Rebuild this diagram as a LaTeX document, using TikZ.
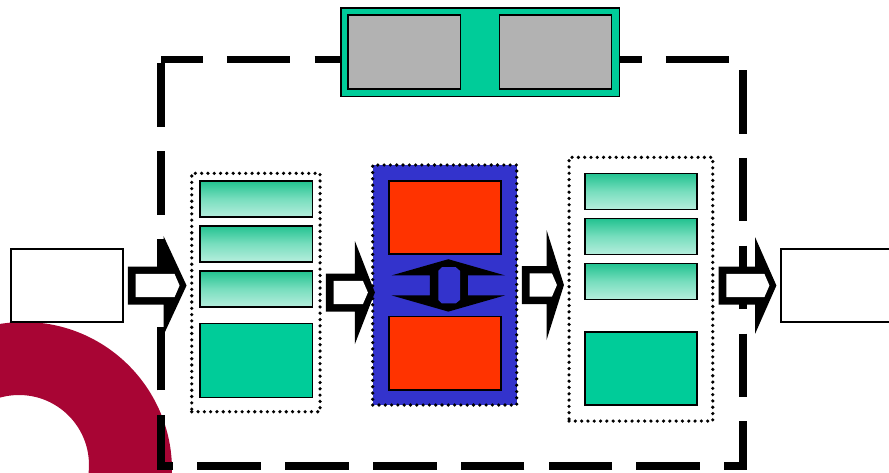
\documentclass[tikz,border=0pt]{standalone}
\usetikzlibrary{calc}
\definecolor{panelgreen}{RGB}{0,204,153}
\definecolor{boxgray}{RGB}{178,178,178}
\definecolor{fadetop}{RGB}{34,194,144}
\definecolor{fademid}{RGB}{120,222,190}
\definecolor{fadelow}{RGB}{182,238,221}
\definecolor{coreblue}{RGB}{51,51,204}
\definecolor{corered}{RGB}{255,51,0}
\definecolor{ringred}{RGB}{168,5,52}
\tikzset{
	iobox/.style={draw=black, fill=white, line width=1.8pt, inner sep=0pt, minimum width=112pt, minimum height=73pt},
	unitbox/.style={draw=black, line width=1.6pt, inner sep=0pt, minimum width=112.5pt},
	fadebox/.style={unitbox, top color=fadetop, bottom color=fadelow, middle color=fademid, minimum height=36pt},
	solidbox/.style={unitbox, fill=panelgreen, minimum height=74pt},
	graybox/.style={unitbox, fill=boxgray, minimum height=74.5pt},
	redbox/.style={unitbox, fill=corered, minimum height=73.5pt},
	panel/.style={draw=black, fill=panelgreen, line width=1.5pt, inner sep=0pt, minimum width=278.5pt, minimum height=88.5pt},
	dotgroup/.style={draw=black, line width=3.6pt, dash pattern=on 0pt off 6.3pt, line cap=round, inner sep=0pt},
	frame/.style={line width=7.5pt, dash pattern=on 63.5pt off 24.3pt, dash phase=22pt}
}
% thick hollow arrow: tail, tip, half height of head, length of head
\newcommand{\blockarrow}[4]{%
	\fill[black] let \p1=(#1), \p2=(#2) in
		(\x1,\y1-19pt) -- (\x2-#4pt,\y1-19pt) -- (\x2-#4pt,\y1-#3pt) -- (\x2,\y1)
		-- (\x2-#4pt,\y1+#3pt) -- (\x2-#4pt,\y1+19pt) -- (\x1,\y1+19pt) -- cycle;
	\fill[white] let \p1=(#1), \p2=(#2) in
		(\x1+7.7pt,\y1-11.6pt) -- (\x2-12pt,\y1-11.6pt) -- (\x2-7pt,\y1)
		-- (\x2-12pt,\y1+11.6pt) -- (\x1+7.7pt,\y1+11.6pt) -- cycle;
}
\begin{document}
\begin{tikzpicture}[x=1pt,y=-1pt]
	\useasboundingbox (0,0) rectangle (889,472);
	\clip (0,0) rectangle (889,472);
	\fill[ringred, even odd rule] (24,470) circle (148pt) (19,465) circle (70pt);
	\draw[frame] (161,59.5) -- (743,59.5) -- (743,466) -- (161,466) -- cycle;
	% control panel on top
	\node[panel] (ctrl) at (480,52) {};
	\node[graybox, minimum width=112.2pt] (ctrlL) at (404.2,52) {};
	\node[graybox, minimum width=112.2pt] (ctrlR) at (555.5,52) {};
	% in and out
	\node[iobox] (inbox) at (67,285.5) {};
	\node[iobox] (outbox) at (836.9,285.5) {};
	% first group
	\node[dotgroup, minimum width=128.3pt, minimum height=238.4pt] (grpA) at (255.9,292.5) {};
	\node[fadebox] (a1) at (256.2,198.9) {};
	\node[fadebox] (a2) at (256.2,243.7) {};
	\node[fadebox] (a3) at (256.2,288.9) {};
	\node[solidbox] (a4) at (256.2,360.5) {};
	% core
	\node[dotgroup, fill=coreblue, minimum width=144pt, minimum height=240pt] (core) at (444.7,285) {};
	\node[redbox, minimum width=111.9pt] (redtop) at (445,217.5) {};
	\node[redbox, minimum width=111.9pt] (redlow) at (445,353.3) {};
	\coordinate (swap) at ($(redtop.south)!0.5!(redlow.north)+(3.3,0)$);
	\begin{scope}[shift={(swap)}]
		\fill[black] (0,-26.2) -- (56.7,-10) -- (19.5,-10) -- (19.5,10) -- (56.7,10) -- (0,26.2)
			-- (-56.7,10) -- (-18.5,10) -- (-18.5,-10) -- (-56.7,-10) -- cycle;
		\fill[coreblue] (-10,-14.5) -- (-6.5,-18.2) -- (7.5,-18.2) -- (11.7,-14.5)
			-- (11.7,14.5) -- (7.5,18) -- (-6.5,18) -- (-10,14.5) -- cycle;
	\end{scope}
	% second group
	\node[dotgroup, minimum width=143.7pt, minimum height=263.7pt] (grpB) at (640.9,289.2) {};
	\node[fadebox, minimum width=112.2pt] (b1) at (640.9,191.4) {};
	\node[fadebox, minimum width=112.2pt] (b2) at (640.9,236.5) {};
	\node[fadebox, minimum width=112.2pt] (b3) at (640.9,281.5) {};
	\node[solidbox, minimum width=112.2pt, minimum height=73.5pt] (b4) at (640.9,368.5) {};
	% arrows between the stages
	\coordinate (s1) at ($(inbox.east)+(4,0)$);
	\coordinate (e1) at ($(grpA.west |- s1)+(-3.4,0)$);
	\coordinate (s2) at ($(grpA.east)+(4,0)$);
	\coordinate (e2) at ($(core.west |- s2)+(4,0)$);
	\coordinate (s3) at ($(core.east)+(3.3,0)$);
	\coordinate (e3) at ($(grpB.west |- s3)+(-3.3,0)$);
	\coordinate (s4) at ($(grpB.east |- outbox.west)+(4,0)$);
	\coordinate (e4) at ($(outbox.west)+(-3.6,0)$);
	\blockarrow{s1}{e1}{49.5}{23}
	\blockarrow{s2}{e2}{51.5}{20}
	\blockarrow{s3}{e3}{55}{17.4}
	\blockarrow{s4}{e4}{48.3}{21.3}
\end{tikzpicture}
\end{document}
